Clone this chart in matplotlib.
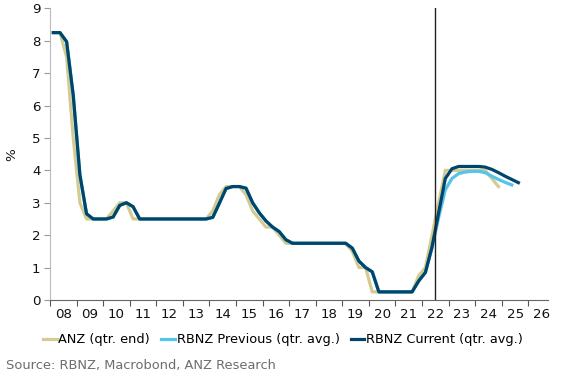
import matplotlib
matplotlib.use("Agg")
import matplotlib.pyplot as plt
import numpy as np

plt.rcParams['font.family'] = ['DejaVu Sans']

# ---- data (quarterly, plotted at mid-quarter) ----
start_year = 2008
anz_qtr_end = [
    8.25, 8.25, 7.5, 5.0,      # 2008
    3.0, 2.5, 2.5, 2.5,        # 2009
    2.5, 2.75, 3.0, 3.0,       # 2010
    2.5, 2.5, 2.5, 2.5,        # 2011
    2.5, 2.5, 2.5, 2.5,        # 2012
    2.5, 2.5, 2.5, 2.5,        # 2013
    2.75, 3.25, 3.5, 3.5,      # 2014
    3.5, 3.25, 2.75, 2.5,      # 2015
    2.25, 2.25, 2.0, 1.75,     # 2016
    1.75, 1.75, 1.75, 1.75,    # 2017
    1.75, 1.75, 1.75, 1.75,    # 2018
    1.75, 1.5, 1.0, 1.0,       # 2019
    0.25, 0.25, 0.25, 0.25,    # 2020
    0.25, 0.25, 0.25, 0.75,    # 2021
    1.0, 2.0, 3.0, 4.0,        # 2022
    4.0, 4.0, 4.0, 4.0,        # 2023
    4.0, 4.0, 3.75, 3.5,       # 2024
]
rbnz_history = [
    8.25, 8.25, 7.97, 6.31,    # 2008
    3.86, 2.66, 2.5, 2.5,      # 2009
    2.5, 2.56, 2.92, 3.0,      # 2010
    2.88, 2.5, 2.5, 2.5,       # 2011
    2.5, 2.5, 2.5, 2.5,        # 2012
    2.5, 2.5, 2.5, 2.5,        # 2013
    2.55, 2.99, 3.44, 3.5,     # 2014
    3.5, 3.45, 3.0, 2.69,      # 2015
    2.44, 2.25, 2.11, 1.86,    # 2016
    1.75, 1.75, 1.75, 1.75,    # 2017
    1.75, 1.75, 1.75, 1.75,    # 2018
    1.75, 1.6, 1.2, 1.0,       # 2019
    0.87, 0.25, 0.25, 0.25,    # 2020
    0.25, 0.25, 0.25, 0.59,    # 2021
    0.85,                      # 2022 Q1
]
rbnz_current_tail = [1.64, 2.7, 3.75,            # 2022 Q2-Q4
                     4.05, 4.12, 4.12, 4.12,     # 2023
                     4.12, 4.1, 4.03, 3.93,      # 2024
                     3.82, 3.72, 3.62]           # 2025 Q1-Q3
rbnz_previous_tail = [1.6, 2.55, 3.4,            # 2022 Q2-Q4
                      3.75, 3.9, 3.95, 3.97,     # 2023
                      3.97, 3.93, 3.82, 3.72,    # 2024
                      3.63, 3.55]                # 2025 Q1-Q2
rbnz_current = rbnz_history + rbnz_current_tail
rbnz_previous = rbnz_history + rbnz_previous_tail

year_labels = ['08', '09', '10', '11', '12', '13', '14', '15', '16', '17',
               '18', '19', '20', '21', '22', '23', '24', '25', '26']
forecast_marker = 2022.5

def qpos(n):
    return start_year + (np.arange(n) + 0.5) / 4.0

c_anz = '#d3cb91'
c_prev = '#55c4ea'
c_cur = '#00456b'
fs = 9.6

fig = plt.figure(figsize=(5.62, 3.8), dpi=100)
ax = fig.add_axes([50/562, 80/380, 498.3/562, (300-8.3)/380])

ax.plot(qpos(len(anz_qtr_end)), anz_qtr_end, color=c_anz, lw=2.3, label='ANZ (qtr. end)')
ax.plot(qpos(len(rbnz_previous)), rbnz_previous, color=c_prev, lw=2.3, label='RBNZ Previous (qtr. avg.)')
ax.plot(qpos(len(rbnz_current)), rbnz_current, color=c_cur, lw=2.3, label='RBNZ Current (qtr. avg.)')
ax.axvline(forecast_marker, color='#222222', lw=1.0)

ax.set_xlim(2008, 2026.75)
ax.set_ylim(0, 9)
ax.set_yticks(range(0, 10))
years = np.arange(2008, 2008 + len(year_labels))
ax.set_xticks(years)
ax.set_xticklabels([])
ax.set_xticks(years + 0.5, minor=True)
ax.set_xticklabels(year_labels, minor=True)
ax.tick_params(axis='x', which='major', length=4, color='#555555', direction='out')
ax.tick_params(axis='x', which='minor', length=0, pad=6, labelsize=fs, labelcolor='#111111')
ax.tick_params(axis='y', length=4, color='#999999', labelsize=fs, labelcolor='#111111', pad=3)

for s in ['top', 'right']:
    ax.spines[s].set_visible(False)
ax.spines['left'].set_color('#bbbbbb')
ax.spines['bottom'].set_color('#666666')

fig.text(12/562, 1 - 155/380, '%', rotation=90, ha='center', va='center', fontsize=fs, color='#111111')

fig.legend(loc='center', bbox_to_anchor=(283/562, 1 - 340/380), ncol=3, frameon=False,
           fontsize=9.3, handlelength=1.05, handletextpad=0.15, columnspacing=0.85,
           borderaxespad=0, borderpad=0)

fig.text(6/562, 1 - 365/380, 'Source: RBNZ, Macrobond, ANZ Research', ha='left', va='center',
         fontsize=9.4, color='#6d6d6d')

fig.savefig('out.png', dpi=100)
